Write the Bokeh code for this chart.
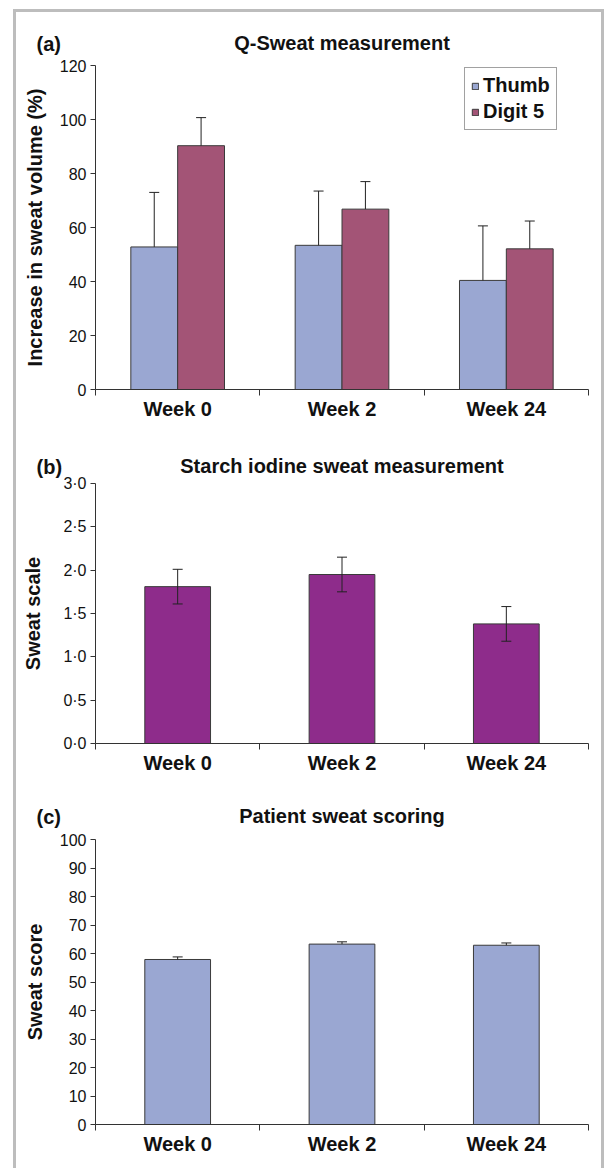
from bokeh.plotting import figure
from bokeh.models import (FactorRange, Range1d, LinearAxis, CategoricalAxis, FixedTicker,
                          ColumnDataSource, Whisker, TeeHead, Title, Legend, LegendItem,
                          CustomJSTickFormatter)
from bokeh.transform import dodge
from bokeh.layouts import column
from bokeh.embed import file_html
from bokeh.resources import INLINE

# ---------------- data ----------------
weeks = ["Week 0", "Week 2", "Week 24"]
week_bounds = [0, 1, 2, 3]

# (a) Q-Sweat measurement
qsweat_thumb = [52.8, 53.4, 40.4]
qsweat_thumb_err = [20.2, 20.1, 20.2]
qsweat_digit5 = [90.3, 66.8, 52.1]
qsweat_digit5_err = [10.4, 10.2, 10.3]
qsweat_ticks = [0, 20, 40, 60, 80, 100, 120]

# (b) Starch iodine sweat measurement
starch = [1.81, 1.95, 1.38]
starch_err = [0.20, 0.20, 0.20]
starch_ticks = [0.0, 0.5, 1.0, 1.5, 2.0, 2.5, 3.0]
starch_tick_labels = ["0·0", "0·5", "1·0", "1·5", "2·0", "2·5", "3·0"]

# (c) Patient sweat scoring
score = [57.9, 63.3, 62.9]
score_err = [0.9, 0.8, 0.8]
score_ticks = [0, 10, 20, 30, 40, 50, 60, 70, 80, 90, 100]

# ---------------- style ----------------
FONT = "Liberation Sans"
THUMB = "#9AA7D2"
DIGIT5 = "#A35476"
PURPLE = "#8E2C8B"
EDGE = "#3a3a3a"
AXIS = "#333333"
W = 585
TH = 23  # approx. height of a 20px bold title line


def make_panel(height, mt, mb, mr, ymax, ticks, ylabel, ystandoff, letter, title, gap,
               tick_labels=None):
    # the letter title sits next to the frame, the main title is stacked on it;
    # standoffs chosen so both share one baseline, `gap` px above the frame
    s_letter = 2 * gap
    s_title = 2 * (gap - TH - s_letter)
    main_title = Title(text=title, align="center", standoff=s_title,
                       text_font=FONT, text_font_size="20px", text_font_style="bold",
                       text_color="#111111")
    p = figure(width=W, height=height, x_range=FactorRange(*weeks), y_range=Range1d(0, ymax),
               output_backend="svg", toolbar_location=None, x_axis_location=None,
               min_border_left=79, min_border_right=mr, min_border_top=mt, min_border_bottom=mb,
               title=main_title)
    p.outline_line_color = None
    p.grid.grid_line_color = None
    p.background_fill_color = "white"
    p.border_fill_color = "white"

    p.add_layout(Title(text=letter, align="left", offset=-59, standoff=s_letter,
                       text_font=FONT, text_font_size="20px", text_font_style="bold",
                       text_color="#111111"), "above")

    ya = p.yaxis[0]
    ya.ticker = FixedTicker(ticks=ticks)
    if tick_labels is not None:
        ya.formatter = CustomJSTickFormatter(args=dict(t=ticks, l=tick_labels), code="""
            for (let i = 0; i < t.length; i++) { if (Math.abs(t[i] - tick) < 1e-9) return l[i]; }
            return '';
        """)
    ya.minor_tick_line_color = None
    ya.major_tick_in = 0
    ya.major_tick_out = 5
    ya.major_label_standoff = 4
    ya.major_label_text_font = FONT
    ya.major_label_text_font_size = "16px"
    ya.major_label_text_color = "#111111"
    ya.axis_line_color = AXIS
    ya.major_tick_line_color = AXIS
    ya.axis_label = ylabel
    ya.axis_label_text_font = FONT
    ya.axis_label_text_font_size = "20px"
    ya.axis_label_text_font_style = "bold"
    ya.axis_label_text_color = "#111111"
    ya.axis_label_standoff = int(round(ystandoff))

    # boundary ticks between categories (synthetic coordinates of the factor range)
    tick_ax = LinearAxis(ticker=FixedTicker(ticks=week_bounds),
                         major_label_text_font_size="0px", major_label_standoff=0,
                         major_tick_in=0, major_tick_out=6, minor_tick_line_color=None,
                         axis_line_color=AXIS, major_tick_line_color=AXIS)
    p.add_layout(tick_ax, "below")
    lab_ax = CategoricalAxis(major_tick_line_color=None, axis_line_color=None,
                             major_tick_in=0, major_tick_out=0,
                             major_label_text_font=FONT, major_label_text_font_size="20px",
                             major_label_text_font_style="bold", major_label_text_color="#111111",
                             major_label_standoff=2)
    p.add_layout(lab_ax, "below")
    return p


# ---------------- panel (a) ----------------
p1 = make_panel(418, 53, 41, 6, 120, qsweat_ticks, "Increase in sweat volume (%)", 11,
                "(a)", "Q-Sweat measurement", 11)
src_a = ColumnDataSource(dict(
    week=weeks, thumb=qsweat_thumb, digit5=qsweat_digit5,
    thumb_hi=[v + e for v, e in zip(qsweat_thumb, qsweat_thumb_err)],
    digit5_hi=[v + e for v, e in zip(qsweat_digit5, qsweat_digit5_err)]))
bw = 0.285
r_thumb = p1.vbar(x=dodge("week", -bw / 2, range=p1.x_range), top="thumb", width=bw, source=src_a,
                  fill_color=THUMB, line_color=EDGE, line_width=1)
r_digit = p1.vbar(x=dodge("week", bw / 2, range=p1.x_range), top="digit5", width=bw, source=src_a,
                  fill_color=DIGIT5, line_color=EDGE, line_width=1)
p1.add_layout(Whisker(source=src_a, base=dodge("week", -bw / 2, range=p1.x_range),
                      lower="thumb", upper="thumb_hi", line_color="#222222", line_width=1,
                      upper_head=TeeHead(size=10, line_color="#222222", line_width=1),
                      lower_head=None, level="annotation"))
p1.add_layout(Whisker(source=src_a, base=dodge("week", bw / 2, range=p1.x_range),
                      lower="digit5", upper="digit5_hi", line_color="#222222", line_width=1,
                      upper_head=TeeHead(size=10, line_color="#222222", line_width=1),
                      lower_head=None, level="annotation"))
legend = Legend(items=[LegendItem(label="Thumb", renderers=[r_thumb]),
                       LegendItem(label="Digit 5", renderers=[r_digit])],
                location=(369, 259), margin=0, padding=6, spacing=3, glyph_width=8,
                glyph_height=8, label_standoff=4, label_text_font=FONT,
                label_text_font_size="20px", label_text_font_style="bold",
                label_text_color="#111111", border_line_color="#444444", border_line_width=1,
                background_fill_color="white", background_fill_alpha=1.0)
p1.add_layout(legend)

# ---------------- panel (b) ----------------
p2 = make_panel(355, 53, 42, 13, 3.0, starch_ticks, "Sweat scale", 16,
                "(b)", "Starch iodine sweat measurement", 6, tick_labels=starch_tick_labels)
src_b = ColumnDataSource(dict(
    week=weeks, val=starch,
    lo=[v - e for v, e in zip(starch, starch_err)],
    hi=[v + e for v, e in zip(starch, starch_err)]))
p2.vbar(x="week", top="val", width=0.4, source=src_b, fill_color=PURPLE, line_color=EDGE,
        line_width=1)
p2.add_layout(Whisker(source=src_b, base="week", lower="lo", upper="hi", line_color="#222222",
                      line_width=1,
                      upper_head=TeeHead(size=10, line_color="#222222", line_width=1),
                      lower_head=TeeHead(size=10, line_color="#222222", line_width=1),
                      level="annotation"))

# ---------------- panel (c) ----------------
p3 = make_panel(383, 54, 44, 7, 100, score_ticks, "Sweat score", 11,
                "(c)", "Patient sweat scoring", 12)
src_c = ColumnDataSource(dict(
    week=weeks, val=score,
    hi=[v + e for v, e in zip(score, score_err)]))
p3.vbar(x="week", top="val", width=0.4, source=src_c, fill_color=THUMB, line_color=EDGE,
        line_width=1)
p3.add_layout(Whisker(source=src_c, base="week", lower="val", upper="hi", line_color="#222222",
                      line_width=1,
                      upper_head=TeeHead(size=10, line_color="#222222", line_width=1),
                      lower_head=None, level="annotation"))

layout = column(p1, p2, p3, spacing=0, margin=(9, 0, 0, 13),
                styles={"border-left": "3px solid #bdbdbd", "border-top": "3px solid #bdbdbd",
                        "border-right": "3px solid #bdbdbd"})

open("out.html", "w").write(file_html(layout, INLINE))
